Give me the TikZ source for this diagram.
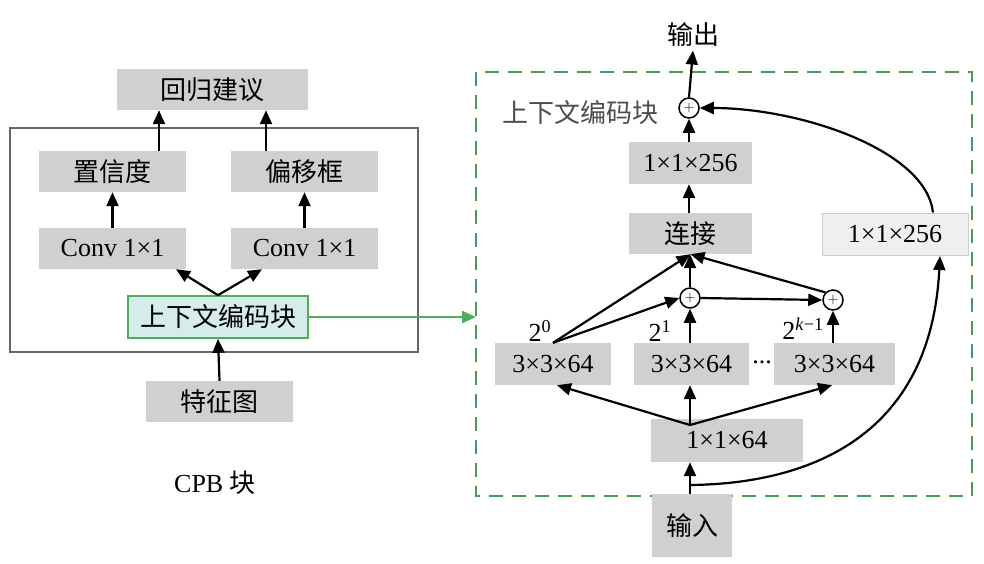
\documentclass[tikz,border=0pt]{standalone}
\usepackage{fontspec}
\setmainfont{Liberation Serif}
\newfontfamily\cjk{Noto Sans CJK SC}
\usetikzlibrary{arrows.meta}
\definecolor{boxgray}{HTML}{D0D0D0}
\definecolor{lightgray}{HTML}{EFEFEF}
\definecolor{ctxfill}{HTML}{D6ECEA}
\definecolor{ctxgreen}{HTML}{4CAF5A}
\definecolor{dashgreen}{HTML}{4A9A5C}
\tikzset{
  gbox/.style={fill=boxgray, inner sep=0pt, minimum height=41pt},
  arr/.style={line width=2.2pt, -{Triangle[length=14pt,width=12pt]}},
  addnode/.style={circle, draw, line width=1.5pt, minimum size=20pt, inner sep=0pt, font=\fontsize{15}{15}\selectfont}
}
\begin{document}
\begin{tikzpicture}[x=1pt,y=-1pt,font=\fontsize{26}{30}\selectfont]
\useasboundingbox (0,0) rectangle (984,563);
% CPB block
\draw [line width=1.3pt, color=black!60] (10,128) rectangle (418,352);
\node [gbox, minimum width=191pt] (reg) at (212.5,89.5) {\cjk 回归建议};
\node [gbox, minimum width=147pt] (conf) at (112.5,171.5) {\cjk 置信度};
\node [gbox, minimum width=147pt] (offs) at (304.5,171.5) {\cjk 偏移框};
\node [gbox, minimum width=147pt] (convA) at (112.5,248.5) {Conv 1×1};
\node [gbox, minimum width=147pt] (convB) at (304.5,248.5) {Conv 1×1};
\node [draw=ctxgreen, line width=1.6pt, fill=ctxfill, inner sep=0pt, minimum width=180pt, minimum height=42pt] (ctx) at (218,317) {\cjk 上下文编码块};
\node [gbox, minimum width=147pt] (feat) at (219.5,401.5) {\cjk 特征图};
\node (cpb) at (215,483) {CPB \cjk 块};

\draw [arr] (feat.north) -- (ctx.south);
\draw [arr] (ctx.north) -- (convA.south -| 176,0);
\draw [arr] (ctx.north) -- (convB.south -| 262,0);
\draw [arr] (convA.north) -- (conf.south);
\draw [arr] (convB.north) -- (offs.south);
\draw [arr] (conf.north -| 159,0) -- (reg.south -| 159,0);
\draw [arr] (offs.north -| 266,0) -- (reg.south -| 266,0);

% context encoding block
\draw [dashgreen, line width=1.6pt, dash pattern=on 14pt off 9pt] (476,72) rectangle (972,496);
\node [text=black!70] (ctxlab) at (580,113) {\cjk 上下文编码块};
\node (out) at (693,35) {\cjk 输出};
\node [addnode] (addtop) at (689,108) {$+$};
\node [gbox, minimum width=123pt, minimum height=42pt] (fc) at (690.5,163) {1×1×256};
\node [gbox, minimum width=123pt] (cat) at (690.5,233.5) {\cjk 连接};
\node [draw=black!20, line width=1pt, fill=lightgray, inner sep=0pt, minimum width=146pt, minimum height=42pt] (gap) at (895,234) {1×1×256};
\node [addnode] (addA) at (690,298) {$+$};
\node [addnode] (addB) at (833,300) {$+$};
\node [gbox, minimum width=116pt, minimum height=42pt] (dA) at (553,364) {3×3×64};
\node [gbox, minimum width=115pt, minimum height=42pt] (dB) at (691.5,364) {3×3×64};
\node [gbox, minimum width=121pt, minimum height=42pt] (dC) at (834.5,364) {3×3×64};
\node (dots) at (762,362) {...};
\node (rA) at (540,331) {2\textsuperscript{0}};
\node (rB) at (660,331) {2\textsuperscript{1}};
\node (rC) at (803,329) {2\textsuperscript{\textit{k}−1}};
\node [gbox, minimum width=152pt, minimum height=43pt] (red) at (727,440.5) {1×1×64};
\node [gbox, minimum width=80pt, minimum height=63pt] (in) at (692,525.5) {\cjk 输入};
\coordinate (split) at (690,485);
\coordinate (fork) at (690,425);

\draw [arr, ctxgreen] (ctx.east) -- (476,317);
\draw [arr] (in.north -| split) -- (red.south -| split);
\draw [arr] (split) .. controls (790,484) and (930,450) .. (940,256);
\draw [arr] (fork) -- (dA.south -| 557,0);
\draw [arr] (fork) -- (dB.south -| fork);
\draw [arr] (fork) -- (dC.south -| 832,0);
\draw [arr] (dA.north) -- (addA.west);
\draw [arr] (dA.north) -- (cat.south);
\draw [arr] (dB.north -| addA) -- (addA.south);
\draw [arr] (dC.north -| addB) -- (addB.south);
\draw [arr] (addA.east) -- (addB.west);
\draw [arr] (addA.north) -- (cat.south -| addA);
\draw [arr] (addB.north west) -- (cat.south);
\draw [arr] (cat.north -| addtop) -- (fc.south -| addtop);
\draw [arr] (fc.north -| addtop) -- (addtop.south);
\draw [arr] (gap.north -| 933,0) .. controls (926,150) and (800,108) .. (addtop.east);
\draw [arr] (addtop.north) -- (out.south);
\end{tikzpicture}
\end{document}
